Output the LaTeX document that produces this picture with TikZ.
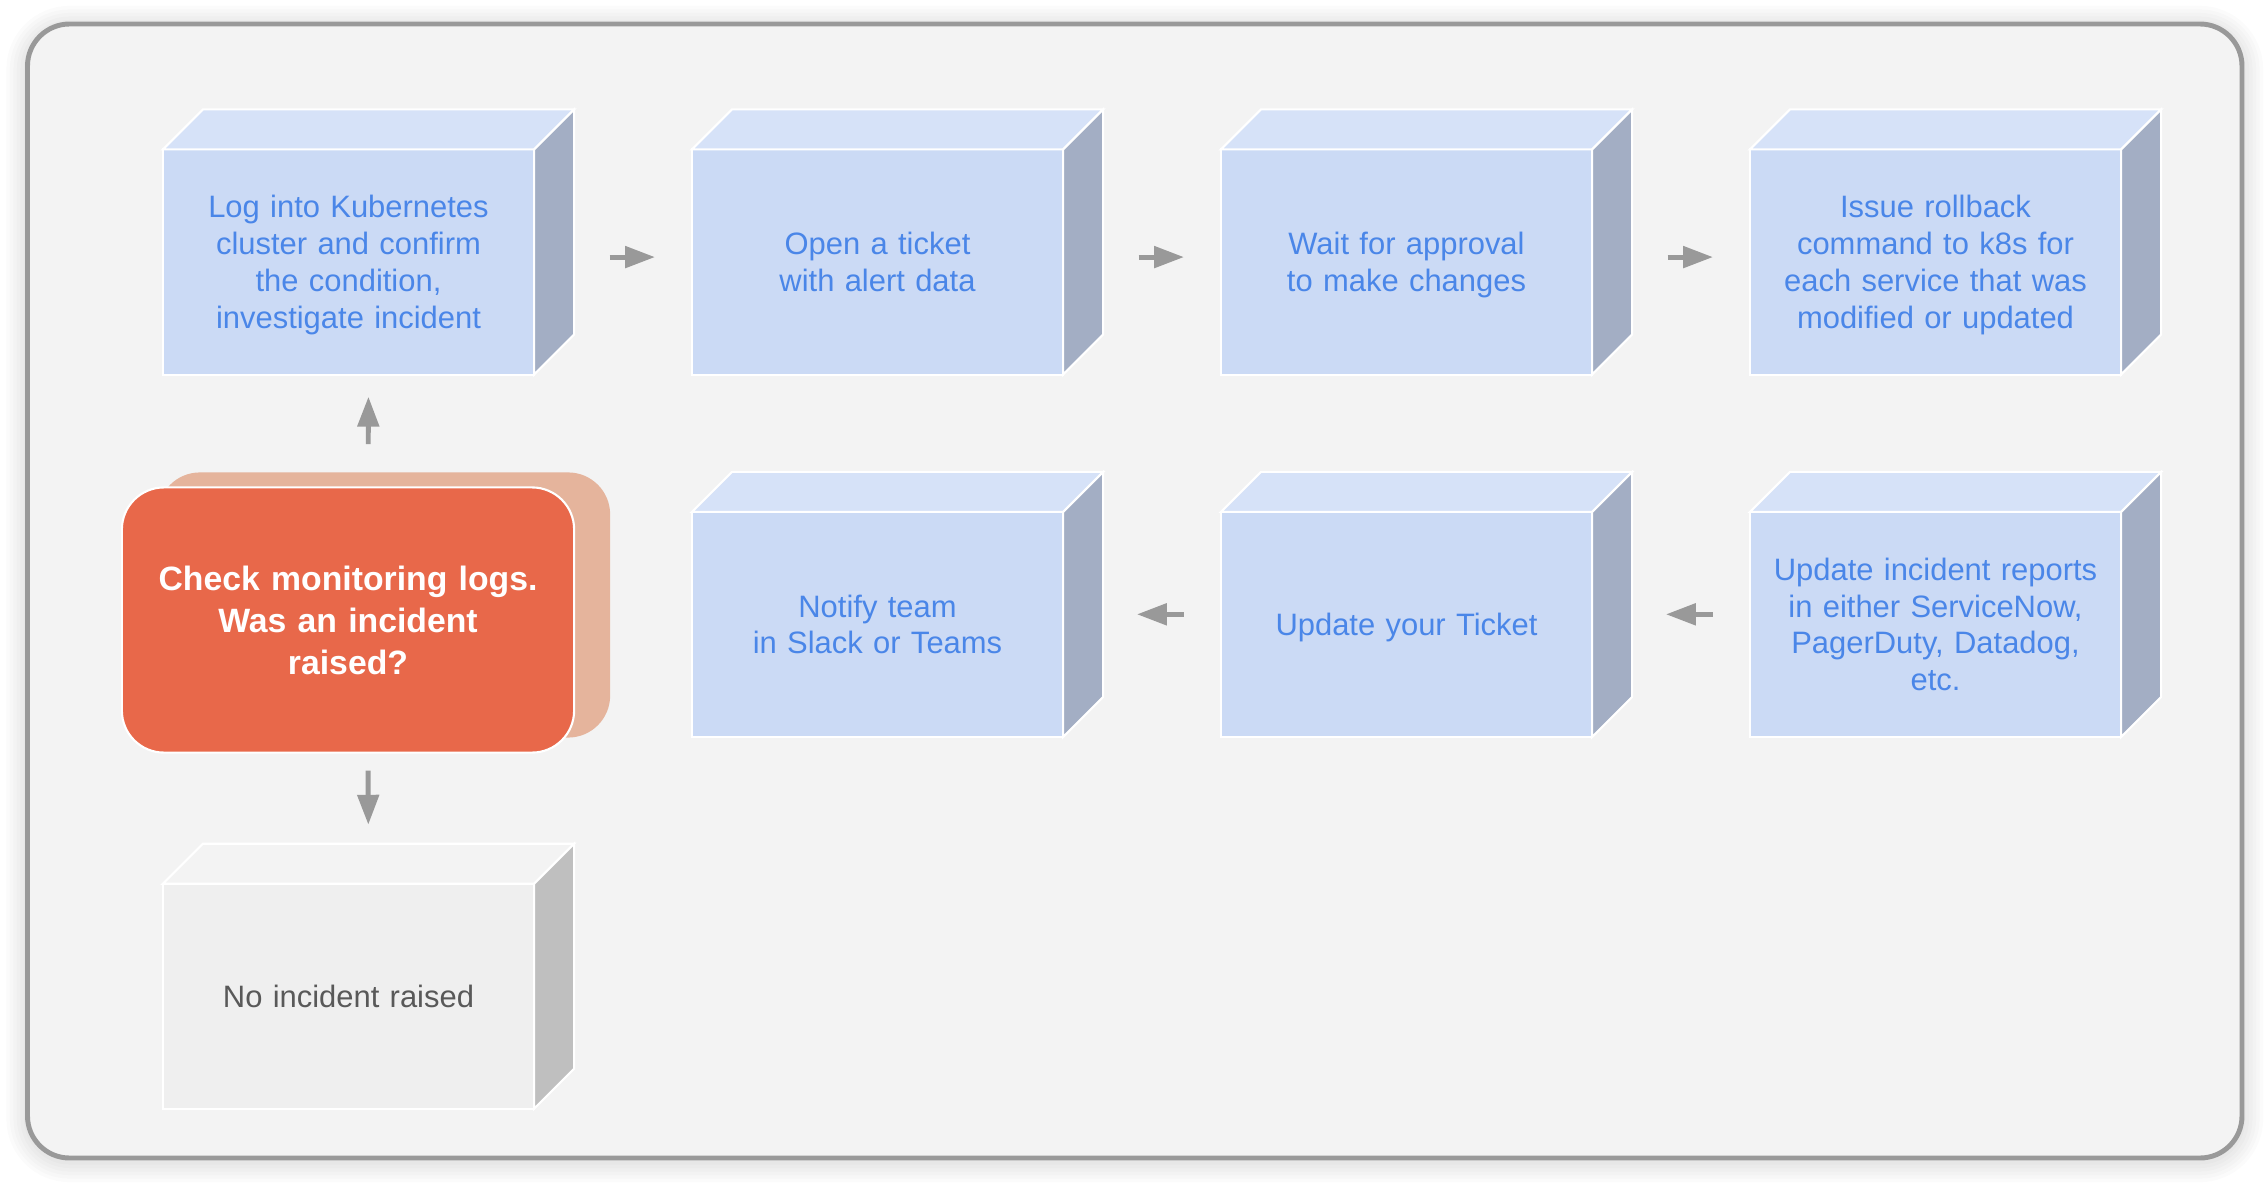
\documentclass[tikz,border=0pt]{standalone}
\usepackage{fontspec}
\setmainfont{Liberation Sans}
\usetikzlibrary{arrows.meta,shadows,calc}
\definecolor{frontblue}{HTML}{CBDAF5}
\definecolor{topblue}{HTML}{D6E2F8}
\definecolor{sideblue}{HTML}{A3AEC4}
\definecolor{textblue}{HTML}{4A86E8}
\definecolor{frontgrey}{HTML}{EFEFEF}
\definecolor{topgrey}{HTML}{F3F3F3}
\definecolor{sidegrey}{HTML}{BFBFBF}
\definecolor{textgrey}{HTML}{595959}
\definecolor{checkred}{HTML}{E8684A}
\definecolor{checkshade}{HTML}{E5B49C}
\definecolor{paper}{HTML}{F3F3F3}
\definecolor{rim}{HTML}{999999}

\begin{document}
\begin{tikzpicture}[x=0.01cm,y=-0.01cm]
        \tikzset{cubefront/.style = {draw=white, line width=0.6pt, fill=frontblue, text=textblue,
                    minimum width=3.71cm, minimum height=2.25cm, inner sep=0pt, outer sep=0pt,
                    text width=3.6cm, align=center, font=\fontsize{8.8}{10.45}\selectfont,
                    execute at begin node=\rule{0pt}{8.2pt}, execute at end node=\rule[-2pt]{0pt}{2pt}},
                 greyfront/.style = {cubefront, fill=frontgrey, text=textgrey},
                 checkbox/.style = {draw=white, line width=0.6pt, fill=checkred, text=white,
                    rounded corners=0.42cm, minimum width=4.52cm, minimum height=2.65cm, inner sep=0pt,
                    text width=4.3cm, align=center, font=\fontsize{9.6}{11.85}\selectfont\bfseries,
                    execute at begin node=\rule{0pt}{9.1pt}, execute at end node=\rule[-2pt]{0pt}{2pt},
                    general shadow={fill=checkshade, shadow xshift=0.36cm, shadow yshift=0.15cm}},
                 flow/.style = {draw=rim, line width=1.4pt, -{Triangle[length=8.5pt,width=6pt]}}}
        \useasboundingbox (0,0) rectangle (2268,1184);
        \fill[white] (0,0) rectangle (2268,1184);
        % frame and its soft shadow
        \foreach \i in {1,...,6}
            \draw[black, opacity=0.015, line width=\i*2pt, rounded corners=0.42cm] (27.5,27) rectangle (2242,1161);
        \draw[rim, fill=paper, line width=1.4pt, rounded corners=0.42cm] (27.5,24) rectangle (2242,1158);
        % front faces
        \node[cubefront] (log) at (348.5,262) {Log into Kubernetes\\cluster and confirm\\the condition,\\investigate incident};
        \node[cubefront] (tkt) at (877.5,262) {Open a ticket\\with alert data};
        \node[cubefront] (wait) at (1406.5,262) {Wait for approval\\to make changes};
        \node[cubefront] (roll) at (1935.5,262) {Issue rollback\\command to k8s for\\each service that was\\modified or updated};
        \node[cubefront] (rep) at (1935.5,624.5) {Update incident reports\\in either ServiceNow,\\PagerDuty, Datadog,\\etc.};
        \node[cubefront] (upd) at (1406.5,624.5) {Update your Ticket};
        \node[cubefront] (ntf) at (877.5,624.5) {Notify team\\in Slack or Teams};
        \node[greyfront] (none) at (348.5,996.3) {No incident raised};
        \node[checkbox] (chk) at (348,620) {Check monitoring logs.\\Was an incident\\raised?};
        % top and side faces
        \foreach \n/\t/\s in {log/topblue/sideblue, tkt/topblue/sideblue, wait/topblue/sideblue,
                roll/topblue/sideblue, rep/topblue/sideblue, upd/topblue/sideblue,
                ntf/topblue/sideblue, none/topgrey/sidegrey}{
            \filldraw[fill=\t, draw=white, line width=0.6pt] (\n.north west) -- ++(40,-40)
                -- ($(\n.north east)+(40,-40)$) -- (\n.north east) -- cycle;
            \filldraw[fill=\s, draw=white, line width=0.6pt] (\n.north east) -- ++(40,-40)
                -- ($(\n.south east)+(40,-40)$) -- (\n.south east) -- cycle;
        }
        % arrows
        \draw[flow, shorten <=21.5pt, shorten >=10.5pt] ([yshift=1.4pt]log.east) -- ([yshift=1.4pt]tkt.west);
        \draw[flow, shorten <=21.5pt, shorten >=10.5pt] ([yshift=1.4pt]tkt.east) -- ([yshift=1.4pt]wait.west);
        \draw[flow, shorten <=21.5pt, shorten >=10.5pt] ([yshift=1.4pt]wait.east) -- ([yshift=1.4pt]roll.west);
        \draw[flow, shorten <=10.5pt, shorten >=21pt] ([yshift=2.9pt]rep.west) -- ([yshift=2.9pt]upd.east);
        \draw[flow, shorten <=10.5pt, shorten >=21pt] ([yshift=2.9pt]upd.west) -- ([yshift=2.9pt]ntf.east);
        \draw[flow, shorten <=12pt, shorten >=6.3pt] ([xshift=5.7pt]chk.north) -- ([xshift=5.7pt]log.south);
        \draw[flow, shorten <=4.8pt, shorten >=16.8pt] ([xshift=5.7pt]chk.south) -- ([xshift=5.7pt]none.north);
    \end{tikzpicture}
\end{document}
